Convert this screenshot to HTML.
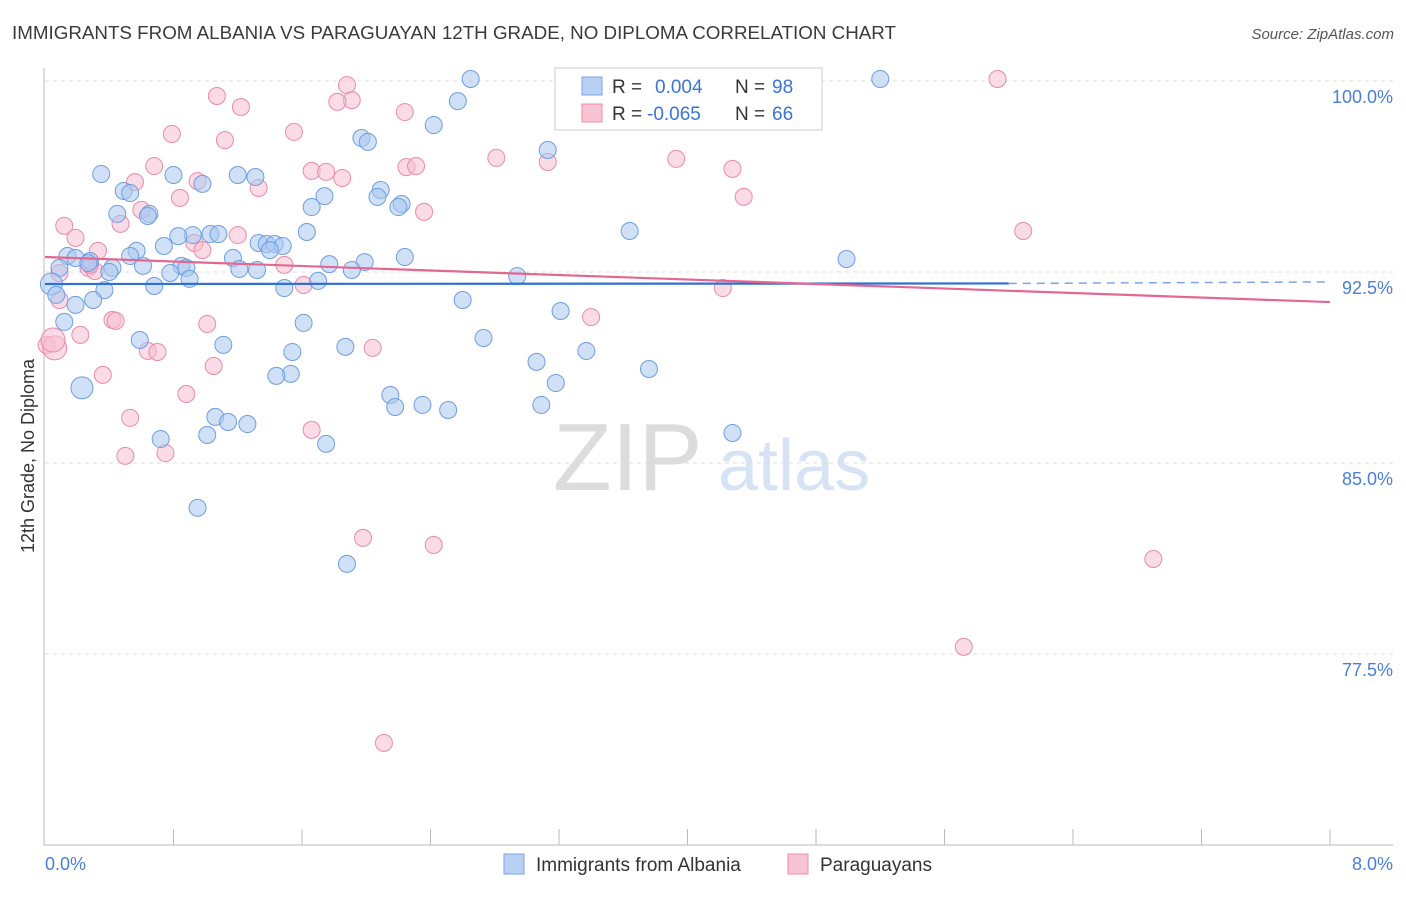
<!DOCTYPE html>
<html><head><meta charset="utf-8"><style>
body{margin:0;background:#fff;font-family:"Liberation Sans",sans-serif;}
svg text{font-family:"Liberation Sans",sans-serif;}
</style></head><body>
<svg id="chart" width="1406" height="892" viewBox="0 0 1406 892" xmlns="http://www.w3.org/2000/svg">
<text x="12" y="39" font-size="18" fill="#3a3a3a" textLength="884" lengthAdjust="spacingAndGlyphs">IMMIGRANTS FROM ALBANIA VS PARAGUAYAN 12TH GRADE, NO DIPLOMA CORRELATION CHART</text>
<text x="1394" y="39" font-size="15" fill="#555" font-style="italic" text-anchor="end">Source: ZipAtlas.com</text>
<g>
<text x="553" y="490" font-size="96" fill="#dcdcdc" font-family="Liberation Serif">ZIP</text>
<text x="718" y="490" font-size="72" fill="#d6e3f5">atlas</text>
</g>
<g id="grid"></g>
<g id="axes"></g>
<g id="pts"></g>
<g id="trends"></g>
<g>
<rect x="555" y="68" width="267" height="62" fill="#fff" stroke="#ccc"/>
<rect x="582" y="77" width="20" height="18" fill="#b8d1f3" stroke="#7aa6e6"/>
<text x="612" y="93" font-size="19" fill="#333">R = </text><text x="655" y="93" font-size="19" fill="#3b73d6">0.004</text>
<text x="735" y="93" font-size="19" fill="#333">N = </text><text x="772" y="93" font-size="19" fill="#3b73d6">98</text>
<rect x="582" y="104" width="20" height="18" fill="#f7c3d3" stroke="#eb8fae"/>
<text x="612" y="120" font-size="19" fill="#333">R = </text><text x="647" y="120" font-size="19" fill="#3b73d6">-0.065</text>
<text x="735" y="120" font-size="19" fill="#333">N = </text><text x="772" y="120" font-size="19" fill="#3b73d6">66</text>
</g>
<g>
<rect x="504" y="854" width="20" height="20" fill="#b8d1f3" stroke="#7aa6e6"/>
<text x="536" y="871" font-size="19" fill="#333">Immigrants from Albania</text>
<rect x="788" y="854" width="20" height="20" fill="#f7c3d3" stroke="#eb8fae"/>
<text x="820" y="871" font-size="19" fill="#333">Paraguayans</text>
</g>
<text transform="translate(34,456) rotate(-90)" font-size="18" fill="#333" text-anchor="middle">12th Grade, No Diploma</text>
<text x="45" y="870" font-size="18" fill="#4a7fd4">0.0%</text>
<text x="1393" y="870" font-size="18" fill="#4a7fd4" text-anchor="end">8.0%</text>
</svg>
<script>
const yTicks=[100,92.5,85,77.5];
const yTickLabels=["100.0%","92.5%","85.0%","77.5%"];
const xTicks=[0.8,1.6,2.4,3.2,4.0,4.8,5.6,6.4,7.2,8.0];
const albaniaX=[2.65,5.20,2.57,2.42,1.97,2.01,3.13,0.35,0.80,1.20,1.31,0.98,0.49,0.53,2.09,2.07,1.74,2.22,2.20,1.66,0.45,0.65,0.64,3.64,1.63,1.03,1.08,0.92,0.83,1.33,1.38,1.43,1.48,0.74,0.57,1.40,0.14,0.19,0.28,0.53,1.17,2.24,1.99,4.99,0.09,0.27,0.42,0.61,0.85,0.88,1.21,1.32,1.77,1.91,0.78,0.40,0.04,0.68,1.70,0.90,2.94,1.49,0.37,0.07,0.30,0.19,2.60,3.21,0.12,1.61,2.73,0.59,1.11,1.87,1.54,3.37,3.06,3.76,3.18,1.53,1.44,0.23,2.15,2.18,2.35,2.51,3.09,1.06,1.14,1.26,1.01,0.72,1.75,4.28,0.95,1.88];
const albaniaY=[100.08,100.08,99.21,98.27,97.76,97.61,97.29,96.35,96.31,96.31,96.23,95.96,95.68,95.60,95.72,95.45,95.48,95.17,95.05,95.05,94.78,94.78,94.70,94.11,94.07,93.99,93.99,93.95,93.91,93.64,93.60,93.60,93.52,93.52,93.33,93.36,93.13,93.05,92.93,93.13,93.05,93.09,92.89,93.01,92.66,92.85,92.66,92.74,92.74,92.66,92.62,92.58,92.81,92.58,92.46,92.50,92.03,91.95,92.15,92.23,92.34,91.87,91.79,91.60,91.40,91.21,91.40,90.97,90.54,90.50,89.91,89.83,89.64,89.56,89.36,89.40,88.97,88.69,88.14,88.50,88.42,87.95,87.67,87.20,87.28,87.08,87.28,86.81,86.61,86.53,86.10,85.94,85.75,86.18,83.24,81.04];
const paraX=[5.93,1.88,1.07,1.91,1.82,1.22,2.24,1.55,0.79,1.12,2.81,3.13,3.93,0.68,2.25,2.31,1.66,1.75,1.85,4.28,0.56,0.95,1.33,0.84,4.35,2.36,0.60,0.12,0.47,6.09,1.20,0.19,0.93,0.33,0.98,1.49,0.27,0.31,0.09,1.61,4.22,0.42,1.01,3.40,0.22,0.44,2.04,0.01,0.64,0.70,0.36,1.05,0.88,0.53,1.66,0.50,0.75,1.98,2.42,6.90,5.72,2.11,0.06,0.05,0.09,0.28];
const paraY=[100.08,99.84,99.41,99.25,99.18,98.98,98.78,98.00,97.92,97.68,96.98,96.82,96.94,96.66,96.62,96.66,96.47,96.43,96.19,96.55,96.03,96.07,95.80,95.41,95.45,94.86,94.94,94.31,94.39,94.11,93.95,93.84,93.64,93.33,93.36,92.78,92.66,92.54,91.40,91.99,91.87,90.62,90.46,90.73,90.03,90.58,89.52,89.63,89.40,89.36,88.46,88.81,87.71,86.77,86.30,85.28,85.39,82.06,81.78,81.23,77.78,74.01,89.52,89.83,92.46,92.78];
const albaniaTrend=[[0,92.03],[6.0,92.05],[8.0,92.11]];
const paraTrend=[[0,93.09],[8.0,91.32]];
const X=v=>45+v/8*1285, Y=v=>81+(100-v)/7.5*191;
const NS="http://www.w3.org/2000/svg";
function mk(p,t,a){const e=document.createElementNS(NS,t);for(const k in a)e.setAttribute(k,a[k]);p.appendChild(e);return e;}
const grid=document.getElementById('grid'),axes=document.getElementById('axes'),pts=document.getElementById('pts'),tr=document.getElementById('trends');
yTicks.forEach((t,i)=>{
 const l=mk(grid,'line',{x1:45,x2:1393,y1:Y(t),y2:Y(t),stroke:'#ddd','stroke-dasharray':'4,4'});
 
 
 const tx=mk(grid,'text',{x:1393,y:Y(t)+22,'font-size':18,fill:'#4a7fd4','text-anchor':'end'});
 tx.textContent=yTickLabels[i];
 
 
});
const ya=mk(axes,'line',{x1:44,x2:44,y1:68,y2:845,stroke:'#bbb'});


const xa=mk(axes,'line',{x1:44,x2:1393,y1:845,y2:845,stroke:'#bbb'});


xTicks.forEach(t=>{const l=mk(axes,'line',{x1:X(t),x2:X(t),y1:829,y2:845,stroke:'#bbb'});
 
 });
function dot(x,y,fill,stroke,name){const c=mk(pts,'circle',{cx:X(x),cy:Y(y),r:8.5,fill:fill,stroke:stroke,'stroke-width':1,'fill-opacity':0.55});
 
 
 return c;}
paraX.forEach((x,i)=>{const c=dot(x,paraY[i],'#f7bdd0','#e98aab','paraguayans-point');if(i>=62&&i<64)c.setAttribute('r',12);});
albaniaX.forEach((x,i)=>{const c=dot(x,albaniaY[i],'#a9c8f1','#6d9de2','albania-point');if(i===56||i===81)c.setAttribute('r',11);});
const b1=mk(tr,'line',{x1:X(albaniaTrend[0][0]),y1:Y(albaniaTrend[0][1]),x2:X(albaniaTrend[1][0]),y2:Y(albaniaTrend[1][1]),stroke:'#2f6fd6','stroke-width':2.2});


const b2=mk(tr,'line',{x1:X(albaniaTrend[1][0]),y1:Y(albaniaTrend[1][1]),x2:X(albaniaTrend[2][0]),y2:Y(albaniaTrend[2][1]),stroke:'#7aa6e6','stroke-width':1.5,'stroke-dasharray':'8,6'});


const p1=mk(tr,'line',{x1:X(paraTrend[0][0]),y1:Y(paraTrend[0][1]),x2:X(paraTrend[1][0]),y2:Y(paraTrend[1][1]),stroke:'#e2688f','stroke-width':2.2});


</script>
</body></html>
